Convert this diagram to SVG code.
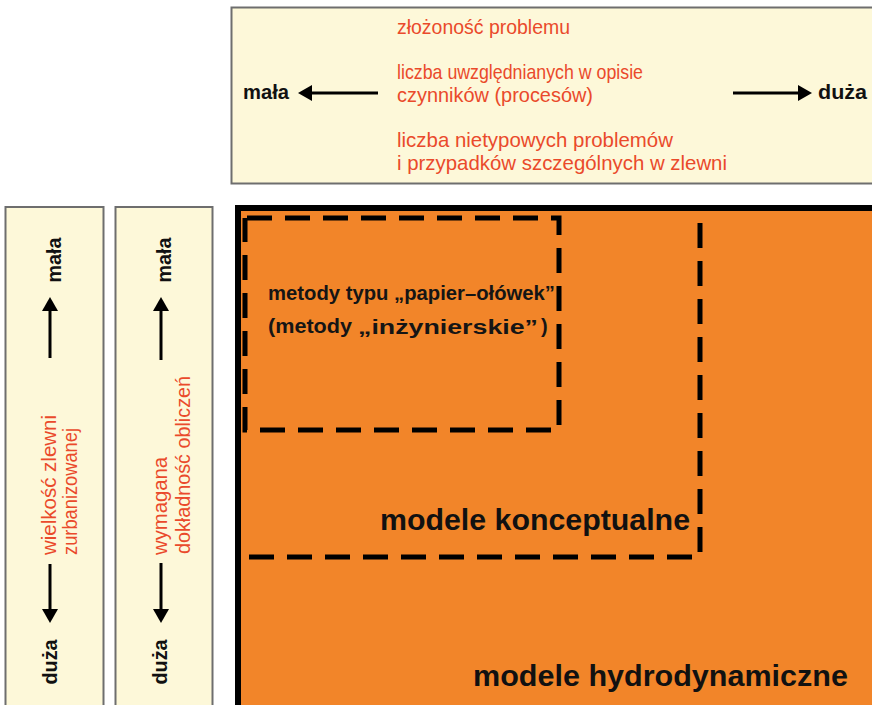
<svg xmlns="http://www.w3.org/2000/svg" width="872" height="705" viewBox="0 0 872 705">
<style>
.panel{fill:#fdf8d9;stroke:#6e6e6e;stroke-width:2}
.red{font-family:"Liberation Sans",Arial,sans-serif;font-size:21px;fill:#ea4a2b}
.lbl{font-family:"Liberation Sans",Arial,sans-serif;font-size:20px;font-weight:bold;fill:#111}
.mid{font-family:"Liberation Sans",Arial,sans-serif;font-size:20px;font-weight:bold;fill:#151515}
.big{font-family:"Liberation Sans",Arial,sans-serif;font-size:29px;font-weight:bold;fill:#111}
.arr{stroke:#000;stroke-width:3;fill:none;marker-end:url(#ah)}
.dash{fill:none;stroke:#000;stroke-width:5;stroke-dasharray:25 13}
</style>
<defs>
<marker id="ah" viewBox="0 0 14 16" markerWidth="14" markerHeight="16" refX="6" refY="8" orient="auto" markerUnits="userSpaceOnUse">
<path d="M0,0 L14,8 L0,16 Z" fill="#000"/>
</marker>
</defs>
<rect width="872" height="705" fill="#fff"/>

<g id="top-panel">
<rect class="panel" x="231.5" y="7.5" width="660" height="176"/>
<text class="red" x="397" y="34" textLength="173" lengthAdjust="spacingAndGlyphs">złożoność problemu</text>
<text class="red" x="397" y="79" textLength="246" lengthAdjust="spacingAndGlyphs">liczba uwzględnianych w opisie</text>
<text class="red" x="397" y="102" textLength="196" lengthAdjust="spacingAndGlyphs">czynników (procesów)</text>
<text class="red" x="397" y="147" textLength="276" lengthAdjust="spacingAndGlyphs">liczba nietypowych problemów</text>
<text class="red" x="397" y="170" textLength="330" lengthAdjust="spacingAndGlyphs">i przypadków szczególnych w zlewni</text>
<text class="lbl" x="243" y="99" textLength="46" lengthAdjust="spacingAndGlyphs">mała</text>
<text class="lbl" x="818" y="99" textLength="49" lengthAdjust="spacingAndGlyphs">duża</text>
</g>

<g id="bar-urban">
<rect class="panel" x="5.5" y="207" width="98" height="510"/>
<text class="lbl" transform="translate(61,260) rotate(-90)" text-anchor="middle" textLength="45" lengthAdjust="spacingAndGlyphs">mała</text>
<text class="red" transform="translate(56,555) rotate(-90)" textLength="140" lengthAdjust="spacingAndGlyphs">wielkość zlewni</text>
<text class="red" transform="translate(77,555) rotate(-90)" textLength="127" lengthAdjust="spacingAndGlyphs">zurbanizowanej</text>
<text class="lbl" transform="translate(57,662) rotate(-90)" text-anchor="middle" textLength="45" lengthAdjust="spacingAndGlyphs">duża</text>
</g>

<g id="bar-accuracy">
<rect class="panel" x="115.5" y="207" width="97" height="510"/>
<text class="lbl" transform="translate(171,260) rotate(-90)" text-anchor="middle" textLength="45" lengthAdjust="spacingAndGlyphs">mała</text>
<text class="red" transform="translate(167,555) rotate(-90)" textLength="98" lengthAdjust="spacingAndGlyphs">wymagana</text>
<text class="red" transform="translate(190,554) rotate(-90)" textLength="178" lengthAdjust="spacingAndGlyphs">dokładność obliczeń</text>
<text class="lbl" transform="translate(167,662) rotate(-90)" text-anchor="middle" textLength="45" lengthAdjust="spacingAndGlyphs">duża</text>
</g>

<g id="hydrodynamic">
<rect x="238" y="208" width="700" height="600" fill="#f28529" stroke="#000" stroke-width="6"/>
<text class="big" x="473" y="686" textLength="375" lengthAdjust="spacingAndGlyphs">modele hydrodynamiczne</text>
</g>

<g id="conceptual">
<path class="dash" d="M700,223 V557 H243"/>
<text class="big" x="380" y="530" textLength="310" lengthAdjust="spacingAndGlyphs">modele konceptualne</text>
</g>

<g id="engineering">
<path class="dash" d="M247,218 H559 V430 H245 V218"/>
<text class="mid" x="268" y="300" textLength="287" lengthAdjust="spacingAndGlyphs">metody typu „papier–ołówek”</text>
<text class="mid" x="268" y="333" textLength="84" lengthAdjust="spacingAndGlyphs">(metody</text>
<text class="mid" x="358" y="334" font-size="29" textLength="180" lengthAdjust="spacingAndGlyphs">„inżynierskie”</text>
<text class="mid" x="541" y="333">)</text>
</g>

<g id="connectors">
<line class="arr" x1="378" y1="93" x2="306" y2="93"/>
<line class="arr" x1="733" y1="93" x2="804" y2="93"/>
<line class="arr" x1="50" y1="358" x2="50" y2="305"/>
<line class="arr" x1="50" y1="564" x2="50" y2="615"/>
<line class="arr" x1="161" y1="360" x2="161" y2="305"/>
<line class="arr" x1="161" y1="563" x2="161" y2="615"/>
</g>
</svg>
